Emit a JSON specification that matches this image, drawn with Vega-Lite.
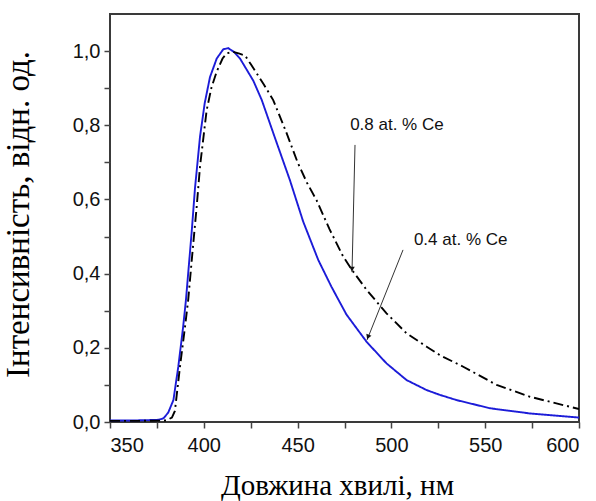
{
  "$schema": "https://vega.github.io/schema/vega-lite/v6.json",
  "autosize": "none",
  "width": 469,
  "height": 408,
  "padding": {"left": 110, "top": 14, "right": 17, "bottom": 79},
  "background": "white",
  "config": {
    "view": {"stroke": "#3a3a3a", "strokeWidth": 2},
    "axis": {
      "domain": false,
      "grid": false,
      "tickColor": "#444444",
      "tickWidth": 1.5,
      "tickSize": 6,
      "labelFont": "Liberation Sans",
      "labelFontSize": 20,
      "labelColor": "#111111",
      "titleFont": "Liberation Serif",
      "titleFontSize": 29,
      "titleFontWeight": "normal",
      "titleColor": "#000000"
    }
  },
  "datasets": {
    "curves": [
      {"x": 350, "y": 0.004, "s": "0.4"},
      {"x": 360, "y": 0.004, "s": "0.4"},
      {"x": 370, "y": 0.005, "s": "0.4"},
      {"x": 376, "y": 0.006, "s": "0.4"},
      {"x": 378.5, "y": 0.01, "s": "0.4"},
      {"x": 381, "y": 0.025, "s": "0.4"},
      {"x": 383.8, "y": 0.059, "s": "0.4"},
      {"x": 386.4, "y": 0.149, "s": "0.4"},
      {"x": 389, "y": 0.257, "s": "0.4"},
      {"x": 390.5, "y": 0.33, "s": "0.4"},
      {"x": 392, "y": 0.42, "s": "0.4"},
      {"x": 393.5, "y": 0.51, "s": "0.4"},
      {"x": 395.3, "y": 0.63, "s": "0.4"},
      {"x": 398, "y": 0.77, "s": "0.4"},
      {"x": 400.5, "y": 0.86, "s": "0.4"},
      {"x": 403.3, "y": 0.93, "s": "0.4"},
      {"x": 406.9, "y": 0.98, "s": "0.4"},
      {"x": 410.4, "y": 1.005, "s": "0.4"},
      {"x": 413, "y": 1.008, "s": "0.4"},
      {"x": 416, "y": 0.998, "s": "0.4"},
      {"x": 419.3, "y": 0.98, "s": "0.4"},
      {"x": 426.4, "y": 0.92, "s": "0.4"},
      {"x": 430.9, "y": 0.868, "s": "0.4"},
      {"x": 438, "y": 0.765, "s": "0.4"},
      {"x": 445.9, "y": 0.652, "s": "0.4"},
      {"x": 453, "y": 0.54, "s": "0.4"},
      {"x": 461, "y": 0.437, "s": "0.4"},
      {"x": 468, "y": 0.365, "s": "0.4"},
      {"x": 476, "y": 0.29, "s": "0.4"},
      {"x": 486.8, "y": 0.216, "s": "0.4"},
      {"x": 497.4, "y": 0.158, "s": "0.4"},
      {"x": 508.1, "y": 0.113, "s": "0.4"},
      {"x": 518.8, "y": 0.086, "s": "0.4"},
      {"x": 525.9, "y": 0.073, "s": "0.4"},
      {"x": 534.8, "y": 0.059, "s": "0.4"},
      {"x": 552.6, "y": 0.037, "s": "0.4"},
      {"x": 573.9, "y": 0.023, "s": "0.4"},
      {"x": 600, "y": 0.012, "s": "0.4"},
      {"x": 350, "y": 0.003, "s": "0.8"},
      {"x": 365, "y": 0.003, "s": "0.8"},
      {"x": 380, "y": 0.004, "s": "0.8"},
      {"x": 383, "y": 0.012, "s": "0.8"},
      {"x": 384.6, "y": 0.03, "s": "0.8"},
      {"x": 387.3, "y": 0.149, "s": "0.8"},
      {"x": 390, "y": 0.257, "s": "0.8"},
      {"x": 391.7, "y": 0.33, "s": "0.8"},
      {"x": 394, "y": 0.46, "s": "0.8"},
      {"x": 396.2, "y": 0.58, "s": "0.8"},
      {"x": 398, "y": 0.69, "s": "0.8"},
      {"x": 401.5, "y": 0.84, "s": "0.8"},
      {"x": 404, "y": 0.9, "s": "0.8"},
      {"x": 406.9, "y": 0.945, "s": "0.8"},
      {"x": 410, "y": 0.98, "s": "0.8"},
      {"x": 412.2, "y": 0.994, "s": "0.8"},
      {"x": 415.7, "y": 0.998, "s": "0.8"},
      {"x": 419, "y": 0.993, "s": "0.8"},
      {"x": 422, "y": 0.988, "s": "0.8"},
      {"x": 425, "y": 0.965, "s": "0.8"},
      {"x": 428.2, "y": 0.94, "s": "0.8"},
      {"x": 432, "y": 0.91, "s": "0.8"},
      {"x": 437, "y": 0.868, "s": "0.8"},
      {"x": 444.2, "y": 0.778, "s": "0.8"},
      {"x": 450, "y": 0.7, "s": "0.8"},
      {"x": 455, "y": 0.645, "s": "0.8"},
      {"x": 460.1, "y": 0.598, "s": "0.8"},
      {"x": 467, "y": 0.52, "s": "0.8"},
      {"x": 474.3, "y": 0.446, "s": "0.8"},
      {"x": 479, "y": 0.41, "s": "0.8"},
      {"x": 486.8, "y": 0.356, "s": "0.8"},
      {"x": 497.4, "y": 0.293, "s": "0.8"},
      {"x": 508.1, "y": 0.239, "s": "0.8"},
      {"x": 518.8, "y": 0.203, "s": "0.8"},
      {"x": 525.9, "y": 0.18, "s": "0.8"},
      {"x": 538.3, "y": 0.149, "s": "0.8"},
      {"x": 556.1, "y": 0.1, "s": "0.8"},
      {"x": 573.9, "y": 0.068, "s": "0.8"},
      {"x": 600, "y": 0.035, "s": "0.8"}
    ],
    "labels": [
      {"x": 478, "y": 0.80, "text": "0.8 at. % Ce"},
      {"x": 512, "y": 0.49, "text": "0.4 at. % Ce"}
    ],
    "arrows": [
      {"x": 480.6, "y": 0.747, "x2": 479, "y2": 0.404, "id": "a8"},
      {"x": 506.2, "y": 0.464, "x2": 487, "y2": 0.221, "id": "a4"}
    ]
  },
  "layer": [
    {
      "data": {"name": "curves"},
      "mark": {"type": "line", "strokeWidth": 1.9, "clip": true},
      "encoding": {
        "x": {
          "field": "x",
          "type": "quantitative",
          "scale": {"domain": [350, 600], "nice": false, "zero": false},
          "axis": {
            "values": [350, 375, 400, 425, 450, 475, 500, 525, 550, 575, 600],
            "labelExpr": "datum.value % 50 === 0 ? datum.label : ''",
            "labelPadding": 7,
            "title": "Довжина хвилі, нм",
            "titleX": 227,
            "titleY": 72,
            "titleBaseline": "alphabetic"
          }
        },
        "y": {
          "field": "y",
          "type": "quantitative",
          "scale": {"domain": [0, 1.1], "nice": false},
          "axis": {
            "values": [0, 0.1, 0.2, 0.3, 0.4, 0.5, 0.6, 0.7, 0.8, 0.9, 1.0],
            "labelExpr": "round(datum.value * 10) % 2 === 0 ? replace(format(datum.value, '.1f'), '.', ',') : ''",
            "labelPadding": 4,
            "title": "Інтенсивність, відн. од.",
            "titleFontSize": 33,
            "titleX": -82,
            "titleY": 200,
            "titleBaseline": "alphabetic"
          }
        },
        "color": {
          "field": "s",
          "type": "nominal",
          "scale": {"domain": ["0.4", "0.8"], "range": ["#1c1cd8", "#000000"]},
          "legend": null
        },
        "strokeDash": {
          "field": "s",
          "type": "nominal",
          "scale": {"domain": ["0.4", "0.8"], "range": [[1, 0], [10, 4, 2, 4]]},
          "legend": null
        }
      }
    },
    {
      "data": {"name": "arrows"},
      "mark": {"type": "rule", "color": "#333333", "strokeWidth": 1},
      "encoding": {
        "x": {"field": "x", "type": "quantitative"},
        "y": {"field": "y", "type": "quantitative"},
        "x2": {"field": "x2"},
        "y2": {"field": "y2"}
      }
    },
    {
      "data": {"name": "arrows"},
      "transform": [{"filter": "datum.id === 'a8'"}],
      "mark": {"type": "point", "shape": "triangle-down", "filled": true, "color": "#111111", "size": 30, "yOffset": -3, "opacity": 1},
      "encoding": {
        "x": {"field": "x2", "type": "quantitative"},
        "y": {"field": "y2", "type": "quantitative"}
      }
    },
    {
      "data": {"name": "arrows"},
      "transform": [{"filter": "datum.id === 'a4'"}],
      "mark": {"type": "point", "shape": "triangle-down", "filled": true, "color": "#111111", "size": 30, "angle": 22, "xOffset": 1, "yOffset": -3, "opacity": 1},
      "encoding": {
        "x": {"field": "x2", "type": "quantitative"},
        "y": {"field": "y2", "type": "quantitative"}
      }
    },
    {
      "data": {"name": "labels"},
      "mark": {"type": "text", "align": "left", "baseline": "middle", "font": "Liberation Sans", "fontSize": 17, "color": "#111111"},
      "encoding": {
        "x": {"field": "x", "type": "quantitative"},
        "y": {"field": "y", "type": "quantitative"},
        "text": {"field": "text"}
      }
    }
  ]
}
